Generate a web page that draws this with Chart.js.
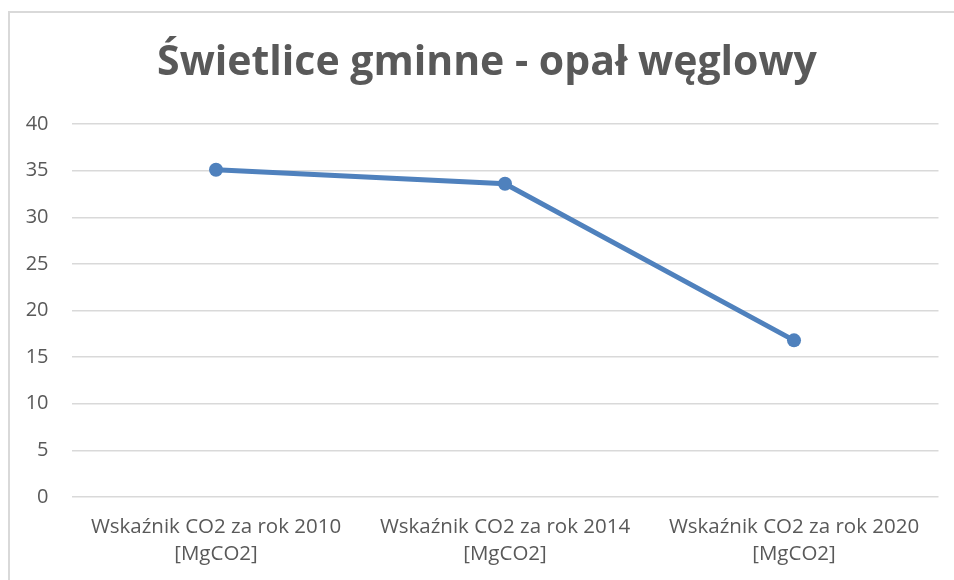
<!DOCTYPE html>
<html lang="pl">
<head>
<meta charset="utf-8">
<title>Świetlice gminne - opał węglowy</title>
<script src="https://cdn.jsdelivr.net/npm/chart.js@4"></script>
<style>
  html, body { margin: 0; padding: 0; background: #fff; overflow: hidden; }
  #wrap { position: relative; width: 954px; height: 580px; }
  #frame {
    position: absolute; left: 8px; top: 11px; width: 980px; height: 600px;
    border: 2px solid #d9d9d9; box-sizing: border-box;
  }
  #chart { position: absolute; left: 0; top: 0; }
</style>
</head>
<body>
<div id="wrap">
  <div id="frame"></div>
  <canvas id="chart" width="954" height="580"></canvas>
</div>
<script>
// Data
const titleText = "Świetlice gminne - opał węglowy";
const categories = [
  ["Wskaźnik CO2 za rok 2010", "[MgCO2]"],
  ["Wskaźnik CO2 za rok 2014", "[MgCO2]"],
  ["Wskaźnik CO2 za rok 2020", "[MgCO2]"],
];
const values = [35.1, 33.6, 16.8];
const yTicks = [0, 5, 10, 15, 20, 25, 30, 35, 40];

const textColor = "#595959";
const gridColor = "#d9d9d9";
const lineColor = "#4f81bd";

Chart.defaults.font.family = "'Open Sans', sans-serif";
Chart.defaults.color = textColor;

// Title centred on the frame, not on the canvas
const frameTitle = {
  id: "frameTitle",
  afterDraw(chart) {
    const c = chart.ctx;
    c.save();
    c.font = "bold 41px 'Open Sans', sans-serif";
    c.fillStyle = textColor;
    c.textAlign = "center";
    c.textBaseline = "alphabetic";
    c.fillText(titleText, 487, 75);
    c.restore();
  },
};

const ctx = document.getElementById("chart").getContext("2d");
new Chart(ctx, {
  type: "line",
  data: {
    labels: categories,
    datasets: [
      {
        label: titleText,
        data: values,
        borderColor: lineColor,
        backgroundColor: lineColor,
        pointBackgroundColor: lineColor,
        pointBorderColor: lineColor,
        borderWidth: 5,
        pointRadius: 7,
        pointBorderWidth: 0,
        tension: 0,
        fill: false,
      },
    ],
  },
  plugins: [frameTitle],
  options: {
    responsive: false,
    animation: false,
    layout: { padding: { left: 0, right: 15.5, top: 124, bottom: 0 } },
    plugins: {
      legend: { display: false },
      tooltip: { enabled: false },
      title: { display: false },
    },
    scales: {
      x: {
        offset: true,
        grid: { display: false, drawTicks: false },
        border: { display: false },
        ticks: {
          font: { size: 20.5, lineHeight: 1.35 },
          color: textColor,
          padding: 16,
          maxRotation: 0,
          autoSkip: false,
        },
        afterFit: (scale) => { scale.height = 83; },
      },
      y: {
        min: 0,
        max: 40,
        afterBuildTicks: (scale) => {
          scale.ticks = yTicks.map((v) => ({ value: v }));
        },
        grid: { color: gridColor, lineWidth: 1.5, drawTicks: false },
        border: { display: false },
        ticks: { font: { size: 20 }, color: textColor, padding: 23 },
        afterFit: (scale) => { scale.width = 71.5; },
      },
    },
  },
});
</script>
</body>
</html>
